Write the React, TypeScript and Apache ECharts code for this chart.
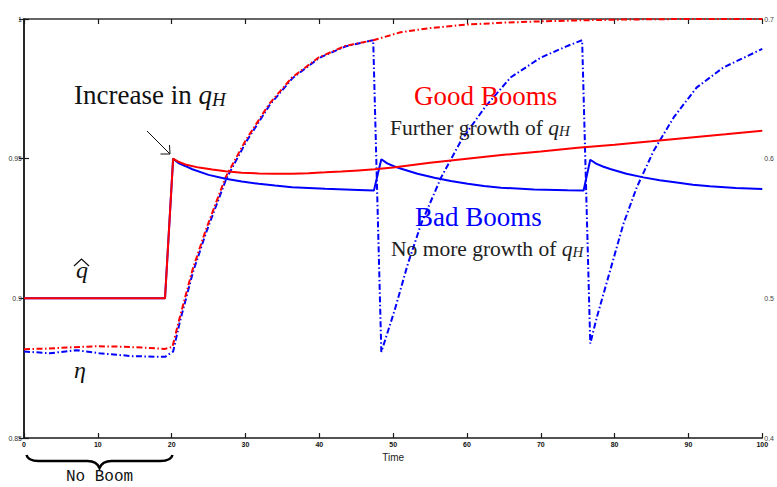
import React, { useEffect, useRef } from "react";
import * as echarts from "echarts";

// Time axis
const xMin = 0;
const xMax = 100;
const xStep = 10;

// Left axis: expected quality q-hat
const qMin = 0.85;
const qMax = 1;
const qStep = 0.05;

// Right axis: eta
const etaMin = 0.4;
const etaMax = 0.7;
const etaStep = 0.1;

// q-hat along a good boom (keeps growing)
const qGood: [number, number][] = [
  [0, 0.9], [19.1, 0.9], [20.2, 0.95], [21, 0.9488], [22, 0.9478], [23.7, 0.9468],
  [25.5, 0.9461], [27.3, 0.9455], [29.5, 0.945], [31.8, 0.9447], [34, 0.9446],
  [36.3, 0.9446], [38.5, 0.9448], [40.8, 0.9451], [43, 0.9454], [45.3, 0.9458],
  [47.5, 0.9462], [50, 0.9468], [55, 0.9485], [60, 0.95], [65, 0.9514], [70, 0.9526],
  [75, 0.9539], [80, 0.955], [85, 0.9562], [90, 0.9575], [95, 0.9587], [100, 0.96],
];

// q-hat along a bad boom (no more growth)
const qBad: [number, number][] = [
  [0, 0.9], [19.1, 0.9], [20.2, 0.95], [21, 0.9483], [21.9, 0.9473], [22.8, 0.9462],
  [25, 0.9442], [27.3, 0.9428], [29.5, 0.9418], [31.8, 0.941], [34, 0.9404],
  [36.3, 0.9398], [40.8, 0.9392], [45.3, 0.9388], [47.4, 0.9386],
  [48.4, 0.9498], [49.2, 0.9483], [50.1, 0.9473], [51.1, 0.9464], [53.3, 0.9446],
  [55.6, 0.9432], [57.8, 0.942], [60.1, 0.941], [62.3, 0.9402], [64.6, 0.9396],
  [69.1, 0.939], [73.6, 0.9387], [75.8, 0.9386],
  [76.7, 0.9496], [77.5, 0.9482], [78.4, 0.9472], [79.4, 0.9463], [81.6, 0.9446],
  [83.9, 0.9433], [86.1, 0.9423], [88.4, 0.9415], [90.6, 0.9407], [92.9, 0.9401],
  [96.4, 0.9395], [100, 0.9391],
];

// eta along a good boom
const etaGood: [number, number][] = [
  [0, 0.4636], [3, 0.464], [6, 0.4648], [9.8, 0.4657], [13, 0.4654], [16, 0.4648],
  [19.1, 0.4638], [20.1, 0.4652], [21, 0.4843], [22.8, 0.52], [24.6, 0.5486],
  [27.3, 0.5866], [30, 0.6129], [33.2, 0.6391], [36.3, 0.6581], [39.9, 0.6724],
  [43.5, 0.6807], [47.3, 0.6848], [51, 0.6905], [55, 0.6935], [60, 0.696],
  [65, 0.6974], [70, 0.6983], [75, 0.699], [80, 0.6995], [86, 0.6999], [100, 0.7],
];

// eta along a bad boom
const etaBad: [number, number][] = [
  [0, 0.4619], [3.5, 0.4607], [7.1, 0.4629], [10.2, 0.4607], [14.7, 0.4586],
  [19.1, 0.4581], [20.2, 0.4619], [21.1, 0.483], [22.9, 0.519], [24.7, 0.5476],
  [27.4, 0.5856], [30.1, 0.6122], [33.3, 0.6386], [36.4, 0.6578], [40, 0.6722],
  [43.6, 0.6805], [47.3, 0.6848],
  [48.4, 0.4616], [50.2, 0.4914], [52, 0.5248], [53.8, 0.5534], [56.5, 0.5866],
  [59.2, 0.6129], [62.4, 0.6366], [65.9, 0.6581], [70, 0.6724], [73.6, 0.6807],
  [75.6, 0.6848],
  [76.7, 0.4676], [77.6, 0.4866], [79.4, 0.52], [81.2, 0.5534], [83, 0.5795],
  [85.3, 0.6057], [88, 0.6295], [91.1, 0.6509], [94.7, 0.6652], [100, 0.6786],
];

const RED = "#ff0000";
const BLUE = "#0000ff";
const SERIF = "'Liberation Serif', 'Times New Roman', serif";
const SANS = "'Liberation Sans', Arial, sans-serif";
const MONO = "'Liberation Mono', 'Courier New', monospace";

// curly brace drawn under the pre-boom stretch
const BRACE_D =
  "M0 0 C1 4 5 6 12 6 L61 6 C67 6 71 8 73 13 C75 8 79 6 85 6 L134 6 C141 6 145 4 146 0";
echarts.graphic.registerShape("brace", echarts.graphic.extendPath(BRACE_D, {}));

function label(x: number, y: number, text: string, size: number, color: string, rich?: any) {
  return {
    type: "text",
    x,
    y,
    z: 10,
    style: {
      text,
      fill: color,
      fontFamily: SERIF,
      fontSize: size,
      lineHeight: size,
      align: "left",
      verticalAlign: "middle",
      rich,
    },
  };
}

function subRich(size: number, color: string) {
  return {
    q: { fontFamily: SERIF, fontStyle: "italic", fontSize: size, lineHeight: size, fill: color },
    h: {
      fontFamily: SERIF,
      fontStyle: "italic",
      fontSize: Math.round(size * 0.7),
      lineHeight: Math.round(size * 0.35),
      verticalAlign: "bottom",
      fill: color,
    },
  };
}

export default function App() {
  const ref = useRef<HTMLDivElement>(null);

  useEffect(() => {
    if (!ref.current) return;
    const chart = echarts.init(ref.current, null, { renderer: "svg" });

    const axisLine = { show: true, lineStyle: { color: "#1a1a1a", width: 1.5 } };
    const axisTick = { show: true, inside: true, length: 5, lineStyle: { color: "#1a1a1a", width: 1.2 } };

    const lineSeries = (name: string, data: [number, number][], color: string, yAxisIndex: number, dashed: boolean) => ({
      name,
      type: "line",
      xAxisIndex: 0,
      yAxisIndex,
      data,
      symbol: "none",
      smooth: false,
      lineStyle: dashed
        ? { color, width: 2, type: [6, 2.5, 1.5, 2.5] }
        : { color, width: 2 },
    });

    chart.setOption({
      animation: false,
      backgroundColor: "#ffffff",
      grid: { left: 24, right: 11, top: 19, bottom: 49, containLabel: false },
      xAxis: [
        {
          type: "value",
          position: "bottom",
          min: xMin,
          max: xMax,
          interval: xStep,
          axisLine,
          axisTick,
          splitLine: { show: false },
          axisLabel: { fontSize: 7, fontWeight: "bold", fontFamily: SANS, color: "#111", margin: 3 },
          name: "Time",
          nameLocation: "middle",
          nameGap: 8,
          nameTextStyle: { fontSize: 10, fontFamily: SANS, color: "#222" },
        },
        {
          type: "value",
          position: "top",
          min: xMin,
          max: xMax,
          interval: xStep,
          axisLine: { show: true, lineStyle: { color: "#333", width: 1.5 } },
          axisTick,
          splitLine: { show: false },
          axisLabel: { show: false },
        },
      ],
      yAxis: [
        {
          type: "value",
          position: "left",
          min: qMin,
          max: qMax,
          interval: qStep,
          axisLine,
          axisTick,
          splitLine: { show: false },
          axisLabel: { fontSize: 7, fontFamily: SANS, color: "#333", margin: 2 },
        },
        {
          type: "value",
          position: "right",
          min: etaMin,
          max: etaMax,
          interval: etaStep,
          axisLine,
          axisTick,
          splitLine: { show: false },
          axisLabel: { fontSize: 7, fontFamily: SANS, color: "#444", margin: 2 },
        },
      ],
      series: [
        lineSeries("eta bad", etaBad, BLUE, 1, true),
        lineSeries("eta good", etaGood, RED, 1, true),
        lineSeries("q-hat bad", qBad, BLUE, 0, false),
        lineSeries("q-hat good", qGood, RED, 0, false),
      ],
      graphic: [
        label(74, 95, "Increase in {q|q}{h|H}", 27, "#111", subRich(27, "#111")),
        label(414, 96, "Good Booms", 27, RED),
        label(390, 128, "Further growth of {q|q}{h|H}", 21.5, "#222", subRich(21.5, "#222")),
        label(415, 217, "Bad Booms", 27, BLUE),
        label(391, 249, "No more growth of {q|q}{h|H}", 21.5, "#222", subRich(21.5, "#222")),
        // q-hat and eta symbols
        {
          type: "text",
          x: 76,
          y: 270,
          z: 10,
          style: { text: "q", fill: "#111", fontFamily: SERIF, fontStyle: "italic", fontSize: 24, verticalAlign: "middle" },
        },
        {
          type: "polyline",
          z: 10,
          shape: { points: [[74, 266], [81.5, 259], [89, 266]] },
          style: { stroke: "#111", lineWidth: 1.2, fill: "none" },
        },
        {
          type: "text",
          x: 74,
          y: 370,
          z: 10,
          style: { text: "η", fill: "#111", fontFamily: SERIF, fontStyle: "italic", fontSize: 24, verticalAlign: "middle" },
        },
        // arrow pointing at the jump in q_H
        {
          type: "line",
          z: 10,
          shape: { x1: 147, y1: 131, x2: 170, y2: 154 },
          style: { stroke: "#111", lineWidth: 1 },
        },
        {
          type: "polyline",
          z: 10,
          shape: { points: [[160.5, 154], [170, 154], [169.5, 145]] },
          style: { stroke: "#111", lineWidth: 1, fill: "none" },
        },
        // brace and caption for the pre-boom stretch
        {
          type: "brace",
          x: 26.5,
          y: 455,
          z: 10,
          style: { stroke: "#000", lineWidth: 2.5, fill: "none" },
        },
        {
          type: "text",
          x: 99.5,
          y: 477,
          z: 10,
          style: { text: "No Boom", fill: "#111", fontFamily: MONO, fontSize: 16, align: "center", verticalAlign: "middle" },
        },
      ],
    });

    return () => chart.dispose();
  }, []);

  return (
    <div
      ref={ref}
      style={{ position: "fixed", left: 0, top: 0, width: 777, height: 487, background: "#fff" }}
    />
  );
}
